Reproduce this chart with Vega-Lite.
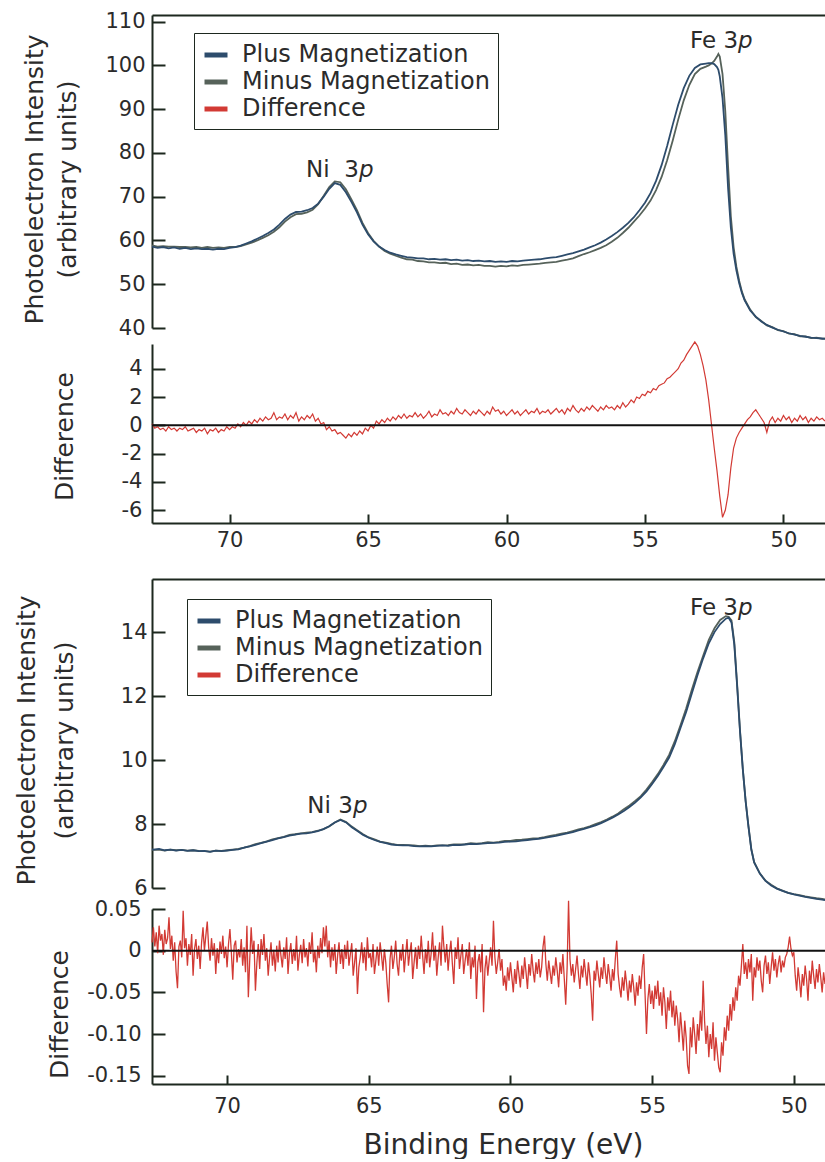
{
"$schema":"https://vega.github.io/schema/vega-lite/v6.json",
"background":"white",
"padding":{"left":13,"top":10,"right":0,"bottom":0},
"config":{
 "font":"DejaVu Sans",
 "view":{"stroke":null},
 "axis":{"domainColor":"#1d281f","domainWidth":2,"labelFontSize":21,"labelColor":"#2b2b2b","titleFontSize":25,"titleFontWeight":"normal","titleColor":"#2b2b2b","labelFlush":false,"labelOverlap":false,"ticks":false,"gridColor":"#1d281f","gridWidth":2,"gridOpacity":1},
 "legend":{"orient":"none","labelFontSize":24,"labelColor":"#2b2b2b","labelLimit":500,"symbolType":"stroke","symbolStrokeWidth":5,"symbolSize":529,"strokeColor":"#1d281f","padding":8,"rowPadding":1,"labelOffset":12,"fillColor":"#ffffff"}
},
"datasets":{
"top":[
{"e":72.8,"p":58.6,"m":58.9},{"e":72.6,"p":58.3,"m":58.6},{"e":72.4,"p":58.5,"m":58.7},{"e":72.2,"p":58.2,"m":58.6},{"e":72.0,"p":58.4,"m":58.6},{"e":71.8,"p":58.1,"m":58.5},{"e":71.6,"p":58.3,"m":58.5},{"e":71.4,"p":58.0,"m":58.4},{"e":71.2,"p":58.2,"m":58.5},{"e":71.0,"p":58.0,"m":58.3},{"e":70.8,"p":58.1,"m":58.5},{"e":70.6,"p":57.9,"m":58.3},{"e":70.4,"p":58.1,"m":58.4},{"e":70.2,"p":58.0,"m":58.3},{"e":70.0,"p":58.3,"m":58.5},{"e":69.8,"p":58.5,"m":58.5},{"e":69.6,"p":58.8,"m":58.7},{"e":69.4,"p":59.3,"m":59.1},{"e":69.2,"p":59.8,"m":59.5},{"e":69.0,"p":60.4,"m":60.0},{"e":68.8,"p":61.0,"m":60.6},{"e":68.6,"p":61.7,"m":61.2},{"e":68.4,"p":62.5,"m":62.0},{"e":68.2,"p":63.6,"m":63.0},{"e":68.0,"p":64.9,"m":64.3},{"e":67.8,"p":65.9,"m":65.3},{"e":67.6,"p":66.5,"m":66.0},{"e":67.4,"p":66.6,"m":66.1},{"e":67.2,"p":66.9,"m":66.4},{"e":67.0,"p":67.4,"m":67.0},{"e":66.8,"p":68.4,"m":68.3},{"e":66.6,"p":70.0,"m":70.2},{"e":66.4,"p":71.8,"m":72.2},{"e":66.2,"p":73.1,"m":73.5},{"e":66.0,"p":72.7,"m":73.3},{"e":65.8,"p":71.0,"m":71.7},{"e":65.6,"p":68.8,"m":69.4},{"e":65.4,"p":66.4,"m":66.9},{"e":65.2,"p":63.6,"m":64.0},{"e":65.0,"p":61.4,"m":61.7},{"e":64.8,"p":59.8,"m":59.9},{"e":64.6,"p":58.6,"m":58.6},{"e":64.4,"p":57.8,"m":57.6},{"e":64.2,"p":57.2,"m":57.0},{"e":64.0,"p":56.8,"m":56.5},{"e":63.8,"p":56.5,"m":56.1},{"e":63.6,"p":56.2,"m":55.7},{"e":63.4,"p":56.1,"m":55.6},{"e":63.2,"p":55.9,"m":55.3},{"e":63.0,"p":55.9,"m":55.2},{"e":62.8,"p":55.7,"m":55.0},{"e":62.6,"p":55.8,"m":55.0},{"e":62.4,"p":55.6,"m":54.8},{"e":62.2,"p":55.7,"m":54.9},{"e":62.0,"p":55.5,"m":54.6},{"e":61.8,"p":55.6,"m":54.7},{"e":61.6,"p":55.4,"m":54.4},{"e":61.4,"p":55.5,"m":54.5},{"e":61.2,"p":55.3,"m":54.3},{"e":61.0,"p":55.4,"m":54.4},{"e":60.8,"p":55.2,"m":54.2},{"e":60.6,"p":55.3,"m":54.2},{"e":60.4,"p":55.1,"m":54.0},{"e":60.2,"p":55.2,"m":54.2},{"e":60.0,"p":55.1,"m":54.1},{"e":59.8,"p":55.3,"m":54.3},{"e":59.6,"p":55.2,"m":54.2},{"e":59.4,"p":55.4,"m":54.4},{"e":59.2,"p":55.5,"m":54.5},{"e":59.0,"p":55.6,"m":54.6},{"e":58.8,"p":55.7,"m":54.7},{"e":58.6,"p":55.9,"m":54.9},{"e":58.4,"p":56.1,"m":55.0},{"e":58.2,"p":56.2,"m":55.1},{"e":58.0,"p":56.5,"m":55.4},{"e":57.8,"p":56.8,"m":55.6},{"e":57.6,"p":57.1,"m":55.9},{"e":57.4,"p":57.5,"m":56.4},{"e":57.2,"p":57.9,"m":56.9},{"e":57.0,"p":58.4,"m":57.3},{"e":56.8,"p":58.9,"m":57.8},{"e":56.6,"p":59.5,"m":58.3},{"e":56.4,"p":60.2,"m":58.9},{"e":56.2,"p":61.0,"m":59.7},{"e":56.0,"p":61.9,"m":60.6},{"e":55.8,"p":62.9,"m":61.7},{"e":55.6,"p":64.0,"m":62.9},{"e":55.4,"p":65.3,"m":64.3},{"e":55.2,"p":66.9,"m":65.7},{"e":55.0,"p":68.6,"m":67.3},{"e":54.8,"p":70.8,"m":69.1},{"e":54.6,"p":73.6,"m":71.5},{"e":54.4,"p":77.2,"m":74.5},{"e":54.2,"p":81.6,"m":78.3},{"e":54.0,"p":86.4,"m":82.8},{"e":53.8,"p":91.0,"m":87.6},{"e":53.6,"p":94.8,"m":92.0},{"e":53.4,"p":97.6,"m":95.5},{"e":53.2,"p":99.4,"m":98.0},{"e":53.0,"p":100.2,"m":99.2},{"e":52.8,"p":100.4,"m":99.7},{"e":52.7,"p":100.5,"m":100.0},{"e":52.6,"p":100.5,"m":100.4},{"e":52.5,"p":100.3,"m":101.0},{"e":52.4,"p":99.6,"m":102.0},{"e":52.35,"p":99.0,"m":102.6},{"e":52.3,"p":97.5,"m":102.0},{"e":52.2,"p":92.5,"m":98.0},{"e":52.1,"p":84.0,"m":89.5},{"e":52.0,"p":72.0,"m":77.0},{"e":51.9,"p":63.0,"m":65.5},{"e":51.8,"p":57.0,"m":58.5},{"e":51.7,"p":53.2,"m":54.0},{"e":51.6,"p":50.3,"m":50.8},{"e":51.5,"p":48.0,"m":48.3},{"e":51.4,"p":46.3,"m":46.5},{"e":51.2,"p":44.0,"m":44.2},{"e":51.0,"p":42.6,"m":42.5},{"e":50.8,"p":41.5,"m":41.6},{"e":50.6,"p":40.7,"m":40.6},{"e":50.4,"p":40.1,"m":40.2},{"e":50.2,"p":39.6,"m":39.5},{"e":50.0,"p":39.2,"m":39.3},{"e":49.8,"p":38.8,"m":38.7},{"e":49.6,"p":38.5,"m":38.6},{"e":49.4,"p":38.2,"m":38.1},{"e":49.2,"p":38.0,"m":38.1},{"e":49.0,"p":37.8,"m":37.7},{"e":48.8,"p":37.7,"m":37.8},{"e":48.6,"p":37.6,"m":37.5},{"e":48.5,"p":37.5,"m":37.6}
],
"topd":[
{"e":72.8,"d":0.1},{"e":72.7,"d":-0.2},{"e":72.6,"d":-0.1},{"e":72.5,"d":-0.3},{"e":72.4,"d":-0.2},{"e":72.3,"d":-0.4},{"e":72.2,"d":-0.1},{"e":72.1,"d":-0.3},{"e":72.0,"d":-0.2},{"e":71.9,"d":-0.4},{"e":71.8,"d":-0.2},{"e":71.7,"d":-0.3},{"e":71.6,"d":-0.1},{"e":71.5,"d":-0.4},{"e":71.4,"d":-0.3},{"e":71.3,"d":-0.2},{"e":71.2,"d":-0.5},{"e":71.1,"d":-0.3},{"e":71.0,"d":-0.4},{"e":70.9,"d":-0.2},{"e":70.8,"d":-0.6},{"e":70.7,"d":-0.3},{"e":70.6,"d":-0.4},{"e":70.5,"d":-0.2},{"e":70.4,"d":-0.5},{"e":70.3,"d":-0.3},{"e":70.2,"d":-0.4},{"e":70.1,"d":-0.1},{"e":70.0,"d":-0.3},{"e":69.9,"d":-0.1},{"e":69.8,"d":-0.2},{"e":69.7,"d":0.1},{"e":69.6,"d":-0.1},{"e":69.5,"d":0.2},{"e":69.4,"d":0.0},{"e":69.3,"d":0.3},{"e":69.2,"d":0.1},{"e":69.1,"d":0.4},{"e":69.0,"d":0.2},{"e":68.9,"d":0.5},{"e":68.8,"d":0.3},{"e":68.7,"d":0.6},{"e":68.6,"d":0.4},{"e":68.5,"d":0.5},{"e":68.4,"d":0.9},{"e":68.3,"d":0.4},{"e":68.2,"d":0.6},{"e":68.1,"d":0.5},{"e":68.0,"d":0.8},{"e":67.9,"d":0.4},{"e":67.8,"d":0.7},{"e":67.7,"d":0.5},{"e":67.6,"d":0.9},{"e":67.5,"d":0.3},{"e":67.4,"d":0.6},{"e":67.3,"d":0.4},{"e":67.2,"d":0.7},{"e":67.1,"d":0.5},{"e":67.0,"d":0.8},{"e":66.9,"d":0.3},{"e":66.8,"d":0.5},{"e":66.7,"d":0.1},{"e":66.6,"d":0.2},{"e":66.5,"d":-0.3},{"e":66.4,"d":-0.1},{"e":66.3,"d":-0.4},{"e":66.2,"d":-0.3},{"e":66.1,"d":-0.6},{"e":66.0,"d":-0.5},{"e":65.9,"d":-0.7},{"e":65.8,"d":-0.9},{"e":65.7,"d":-0.6},{"e":65.6,"d":-0.8},{"e":65.5,"d":-0.5},{"e":65.4,"d":-0.7},{"e":65.3,"d":-0.4},{"e":65.2,"d":-0.6},{"e":65.1,"d":-0.2},{"e":65.0,"d":-0.4},{"e":64.9,"d":0.0},{"e":64.8,"d":-0.2},{"e":64.7,"d":0.3},{"e":64.6,"d":0.1},{"e":64.5,"d":0.4},{"e":64.4,"d":0.2},{"e":64.3,"d":0.5},{"e":64.2,"d":0.3},{"e":64.1,"d":0.6},{"e":64.0,"d":0.4},{"e":63.9,"d":0.7},{"e":63.8,"d":0.5},{"e":63.7,"d":0.8},{"e":63.6,"d":0.5},{"e":63.5,"d":0.7},{"e":63.4,"d":0.6},{"e":63.3,"d":0.9},{"e":63.2,"d":0.6},{"e":63.1,"d":0.8},{"e":63.0,"d":0.5},{"e":62.9,"d":0.7},{"e":62.8,"d":1.0},{"e":62.7,"d":0.6},{"e":62.6,"d":0.8},{"e":62.5,"d":0.7},{"e":62.4,"d":1.1},{"e":62.3,"d":0.8},{"e":62.2,"d":0.9},{"e":62.1,"d":0.7},{"e":62.0,"d":1.0},{"e":61.9,"d":0.8},{"e":61.8,"d":1.2},{"e":61.7,"d":0.9},{"e":61.6,"d":0.8},{"e":61.5,"d":1.1},{"e":61.4,"d":0.9},{"e":61.3,"d":0.7},{"e":61.2,"d":1.0},{"e":61.1,"d":0.8},{"e":61.0,"d":1.1},{"e":60.9,"d":0.9},{"e":60.8,"d":0.7},{"e":60.7,"d":1.0},{"e":60.6,"d":0.8},{"e":60.5,"d":1.3},{"e":60.4,"d":1.0},{"e":60.3,"d":1.1},{"e":60.2,"d":0.8},{"e":60.1,"d":1.0},{"e":60.0,"d":0.7},{"e":59.9,"d":0.9},{"e":59.8,"d":1.1},{"e":59.7,"d":0.8},{"e":59.6,"d":1.0},{"e":59.5,"d":0.7},{"e":59.4,"d":0.9},{"e":59.3,"d":1.1},{"e":59.2,"d":0.8},{"e":59.1,"d":1.0},{"e":59.0,"d":0.9},{"e":58.9,"d":1.2},{"e":58.8,"d":0.8},{"e":58.7,"d":1.0},{"e":58.6,"d":0.9},{"e":58.5,"d":1.1},{"e":58.4,"d":0.8},{"e":58.3,"d":1.0},{"e":58.2,"d":1.2},{"e":58.1,"d":0.9},{"e":58.0,"d":1.1},{"e":57.9,"d":0.8},{"e":57.8,"d":1.2},{"e":57.7,"d":1.0},{"e":57.6,"d":1.4},{"e":57.5,"d":1.1},{"e":57.4,"d":0.9},{"e":57.3,"d":1.2},{"e":57.2,"d":1.0},{"e":57.1,"d":1.3},{"e":57.0,"d":1.1},{"e":56.9,"d":1.4},{"e":56.8,"d":1.2},{"e":56.7,"d":1.0},{"e":56.6,"d":1.3},{"e":56.5,"d":1.1},{"e":56.4,"d":1.4},{"e":56.3,"d":1.2},{"e":56.2,"d":1.3},{"e":56.1,"d":1.1},{"e":56.0,"d":1.4},{"e":55.9,"d":1.2},{"e":55.8,"d":1.6},{"e":55.7,"d":1.3},{"e":55.6,"d":1.5},{"e":55.5,"d":1.8},{"e":55.4,"d":1.6},{"e":55.3,"d":2.0},{"e":55.2,"d":1.9},{"e":55.1,"d":2.2},{"e":55.0,"d":2.1},{"e":54.9,"d":2.4},{"e":54.8,"d":2.3},{"e":54.7,"d":2.6},{"e":54.6,"d":2.5},{"e":54.5,"d":2.8},{"e":54.4,"d":2.9},{"e":54.3,"d":3.0},{"e":54.2,"d":3.3},{"e":54.1,"d":3.4},{"e":54.0,"d":3.6},{"e":53.9,"d":3.8},{"e":53.8,"d":4.0},{"e":53.7,"d":4.4},{"e":53.6,"d":4.6},{"e":53.5,"d":5.0},{"e":53.4,"d":5.3},{"e":53.3,"d":5.6},{"e":53.2,"d":5.9},{"e":53.1,"d":5.6},{"e":53.0,"d":5.0},{"e":52.9,"d":4.2},{"e":52.8,"d":3.2},{"e":52.7,"d":1.8},{"e":52.6,"d":0.1},{"e":52.5,"d":-1.6},{"e":52.4,"d":-3.2},{"e":52.3,"d":-5.0},{"e":52.2,"d":-6.5},{"e":52.1,"d":-6.0},{"e":52.0,"d":-4.9},{"e":51.9,"d":-3.0},{"e":51.8,"d":-1.6},{"e":51.7,"d":-0.9},{"e":51.6,"d":-0.5},{"e":51.5,"d":-0.2},{"e":51.4,"d":0.1},{"e":51.3,"d":0.4},{"e":51.2,"d":0.6},{"e":51.1,"d":0.9},{"e":51.0,"d":1.1},{"e":50.9,"d":0.8},{"e":50.8,"d":0.5},{"e":50.7,"d":0.2},{"e":50.6,"d":-0.5},{"e":50.5,"d":0.3},{"e":50.4,"d":0.6},{"e":50.3,"d":0.2},{"e":50.2,"d":0.5},{"e":50.1,"d":0.3},{"e":50.0,"d":0.7},{"e":49.9,"d":0.4},{"e":49.8,"d":0.6},{"e":49.7,"d":0.2},{"e":49.6,"d":0.5},{"e":49.5,"d":0.3},{"e":49.4,"d":0.7},{"e":49.3,"d":0.4},{"e":49.2,"d":0.6},{"e":49.1,"d":0.2},{"e":49.0,"d":0.5},{"e":48.9,"d":0.3},{"e":48.8,"d":0.6},{"e":48.7,"d":0.4},{"e":48.6,"d":0.5},{"e":48.5,"d":0.3}
],
"bot":[
{"e":72.65,"p":7.21,"m":7.2},{"e":72.6,"p":7.2,"m":7.19},{"e":72.4,"p":7.22,"m":7.2},{"e":72.2,"p":7.18,"m":7.17},{"e":72.0,"p":7.2,"m":7.2},{"e":71.8,"p":7.17,"m":7.18},{"e":71.6,"p":7.19,"m":7.19},{"e":71.4,"p":7.16,"m":7.17},{"e":71.2,"p":7.18,"m":7.18},{"e":71.0,"p":7.15,"m":7.16},{"e":70.8,"p":7.16,"m":7.15},{"e":70.6,"p":7.13,"m":7.14},{"e":70.4,"p":7.17,"m":7.17},{"e":70.2,"p":7.15,"m":7.16},{"e":70.0,"p":7.17,"m":7.18},{"e":69.8,"p":7.19,"m":7.2},{"e":69.6,"p":7.21,"m":7.22},{"e":69.4,"p":7.26,"m":7.26},{"e":69.2,"p":7.3,"m":7.31},{"e":69.0,"p":7.35,"m":7.37},{"e":68.8,"p":7.4,"m":7.41},{"e":68.6,"p":7.45,"m":7.46},{"e":68.4,"p":7.5,"m":7.52},{"e":68.2,"p":7.55,"m":7.56},{"e":68.0,"p":7.59,"m":7.6},{"e":67.8,"p":7.64,"m":7.66},{"e":67.6,"p":7.67,"m":7.68},{"e":67.4,"p":7.7,"m":7.71},{"e":67.2,"p":7.71,"m":7.73},{"e":67.0,"p":7.74,"m":7.75},{"e":66.8,"p":7.78,"m":7.79},{"e":66.6,"p":7.84,"m":7.84},{"e":66.4,"p":7.93,"m":7.92},{"e":66.2,"p":8.05,"m":8.05},{"e":66.0,"p":8.13,"m":8.14},{"e":65.8,"p":8.05,"m":8.06},{"e":65.6,"p":7.9,"m":7.92},{"e":65.4,"p":7.78,"m":7.8},{"e":65.2,"p":7.66,"m":7.68},{"e":65.0,"p":7.57,"m":7.58},{"e":64.8,"p":7.5,"m":7.52},{"e":64.6,"p":7.44,"m":7.45},{"e":64.4,"p":7.4,"m":7.42},{"e":64.2,"p":7.36,"m":7.38},{"e":64.0,"p":7.34,"m":7.35},{"e":63.8,"p":7.33,"m":7.35},{"e":63.6,"p":7.33,"m":7.34},{"e":63.4,"p":7.31,"m":7.33},{"e":63.2,"p":7.3,"m":7.31},{"e":63.0,"p":7.31,"m":7.32},{"e":62.8,"p":7.3,"m":7.31},{"e":62.6,"p":7.32,"m":7.33},{"e":62.4,"p":7.33,"m":7.33},{"e":62.2,"p":7.32,"m":7.34},{"e":62.0,"p":7.35,"m":7.36},{"e":61.8,"p":7.34,"m":7.36},{"e":61.6,"p":7.36,"m":7.37},{"e":61.4,"p":7.38,"m":7.4},{"e":61.2,"p":7.37,"m":7.39},{"e":61.0,"p":7.39,"m":7.4},{"e":60.8,"p":7.4,"m":7.43},{"e":60.6,"p":7.41,"m":7.42},{"e":60.4,"p":7.42,"m":7.44},{"e":60.2,"p":7.44,"m":7.47},{"e":60.0,"p":7.45,"m":7.47},{"e":59.8,"p":7.46,"m":7.5},{"e":59.6,"p":7.48,"m":7.51},{"e":59.4,"p":7.5,"m":7.53},{"e":59.2,"p":7.52,"m":7.55},{"e":59.0,"p":7.54,"m":7.56},{"e":58.8,"p":7.57,"m":7.59},{"e":58.6,"p":7.6,"m":7.63},{"e":58.4,"p":7.63,"m":7.66},{"e":58.2,"p":7.67,"m":7.7},{"e":58.0,"p":7.71,"m":7.73},{"e":57.8,"p":7.75,"m":7.78},{"e":57.6,"p":7.8,"m":7.83},{"e":57.4,"p":7.85,"m":7.87},{"e":57.2,"p":7.9,"m":7.93},{"e":57.0,"p":7.96,"m":8.0},{"e":56.8,"p":8.03,"m":8.06},{"e":56.6,"p":8.11,"m":8.14},{"e":56.4,"p":8.2,"m":8.23},{"e":56.2,"p":8.3,"m":8.33},{"e":56.0,"p":8.41,"m":8.46},{"e":55.8,"p":8.53,"m":8.58},{"e":55.6,"p":8.67,"m":8.72},{"e":55.4,"p":8.83,"m":8.87},{"e":55.2,"p":9.02,"m":9.08},{"e":55.0,"p":9.25,"m":9.31},{"e":54.8,"p":9.5,"m":9.56},{"e":54.6,"p":9.78,"m":9.85},{"e":54.4,"p":10.08,"m":10.16},{"e":54.2,"p":10.5,"m":10.59},{"e":54.0,"p":11.0,"m":11.09},{"e":53.8,"p":11.5,"m":11.61},{"e":53.6,"p":12.08,"m":12.2},{"e":53.4,"p":12.65,"m":12.75},{"e":53.2,"p":13.18,"m":13.26},{"e":53.0,"p":13.65,"m":13.76},{"e":52.8,"p":14.0,"m":14.12},{"e":52.6,"p":14.25,"m":14.38},{"e":52.4,"p":14.42,"m":14.5},{"e":52.3,"p":14.45,"m":14.48},{"e":52.2,"p":14.3,"m":14.37},{"e":52.1,"p":13.6,"m":13.68},{"e":52.0,"p":12.3,"m":12.36},{"e":51.9,"p":10.9,"m":10.94},{"e":51.8,"p":9.7,"m":9.72},{"e":51.7,"p":8.7,"m":8.72},{"e":51.6,"p":7.9,"m":7.93},{"e":51.5,"p":7.2,"m":7.22},{"e":51.4,"p":6.8,"m":6.81},{"e":51.2,"p":6.45,"m":6.46},{"e":51.0,"p":6.22,"m":6.23},{"e":50.8,"p":6.08,"m":6.1},{"e":50.6,"p":5.98,"m":5.99},{"e":50.4,"p":5.91,"m":5.92},{"e":50.2,"p":5.85,"m":5.85},{"e":50.0,"p":5.8,"m":5.81},{"e":49.8,"p":5.76,"m":5.78},{"e":49.6,"p":5.72,"m":5.74},{"e":49.4,"p":5.69,"m":5.71},{"e":49.2,"p":5.66,"m":5.68},{"e":49.0,"p":5.64,"m":5.66},{"e":48.9,"p":5.62,"m":5.64}
],
"botd":[
{"e":72.65,"d":0.01},{"e":72.6,"d":0.028},{"e":72.55,"d":0.005},{"e":72.5,"d":0.022},{"e":72.45,"d":-0.003},{"e":72.4,"d":0.03},{"e":72.35,"d":0.012},{"e":72.3,"d":0.02},{"e":72.25,"d":-0.005},{"e":72.2,"d":0.025},{"e":72.15,"d":0.008},{"e":72.1,"d":0.015},{"e":72.05,"d":0.04},{"e":72.0,"d":0.002},{"e":71.95,"d":0.018},{"e":71.9,"d":-0.012},{"e":71.85,"d":0.01},{"e":71.8,"d":-0.025},{"e":71.75,"d":-0.045},{"e":71.7,"d":0.005},{"e":71.65,"d":0.012},{"e":71.6,"d":-0.008},{"e":71.55,"d":0.048},{"e":71.5,"d":0.003},{"e":71.45,"d":0.015},{"e":71.4,"d":-0.018},{"e":71.35,"d":0.008},{"e":71.3,"d":-0.005},{"e":71.25,"d":0.02},{"e":71.2,"d":-0.03},{"e":71.15,"d":0.002},{"e":71.1,"d":0.014},{"e":71.05,"d":-0.01},{"e":71.0,"d":0.006},{"e":70.95,"d":-0.022},{"e":70.9,"d":0.01},{"e":70.85,"d":0.028},{"e":70.8,"d":0.0},{"e":70.75,"d":0.018},{"e":70.7,"d":0.035},{"e":70.65,"d":0.004},{"e":70.6,"d":-0.012},{"e":70.55,"d":0.015},{"e":70.5,"d":-0.006},{"e":70.45,"d":0.009},{"e":70.4,"d":-0.028},{"e":70.35,"d":0.003},{"e":70.3,"d":-0.015},{"e":70.25,"d":0.011},{"e":70.2,"d":-0.004},{"e":70.15,"d":0.018},{"e":70.1,"d":-0.009},{"e":70.05,"d":0.005},{"e":70.0,"d":-0.02},{"e":69.95,"d":0.008},{"e":69.9,"d":0.026},{"e":69.85,"d":-0.002},{"e":69.8,"d":-0.035},{"e":69.75,"d":0.006},{"e":69.7,"d":0.012},{"e":69.65,"d":-0.014},{"e":69.6,"d":0.002},{"e":69.55,"d":-0.008},{"e":69.5,"d":0.014},{"e":69.45,"d":-0.018},{"e":69.4,"d":0.004},{"e":69.35,"d":-0.026},{"e":69.3,"d":0.03},{"e":69.25,"d":-0.056},{"e":69.2,"d":-0.01},{"e":69.15,"d":0.028},{"e":69.1,"d":-0.004},{"e":69.05,"d":0.012},{"e":69.0,"d":-0.048},{"e":68.95,"d":-0.015},{"e":68.9,"d":0.008},{"e":68.85,"d":-0.022},{"e":68.8,"d":0.014},{"e":68.75,"d":-0.005},{"e":68.7,"d":0.02},{"e":68.65,"d":-0.012},{"e":68.6,"d":0.003},{"e":68.55,"d":-0.03},{"e":68.5,"d":-0.008},{"e":68.45,"d":0.01},{"e":68.4,"d":-0.018},{"e":68.35,"d":0.001},{"e":68.3,"d":-0.025},{"e":68.25,"d":0.006},{"e":68.2,"d":-0.014},{"e":68.15,"d":0.012},{"e":68.1,"d":-0.006},{"e":68.05,"d":-0.02},{"e":68.0,"d":0.004},{"e":67.95,"d":-0.01},{"e":67.9,"d":0.016},{"e":67.85,"d":-0.028},{"e":67.8,"d":-0.003},{"e":67.75,"d":0.009},{"e":67.7,"d":-0.016},{"e":67.65,"d":0.002},{"e":67.6,"d":-0.012},{"e":67.55,"d":0.018},{"e":67.5,"d":-0.024},{"e":67.45,"d":-0.005},{"e":67.4,"d":0.007},{"e":67.35,"d":-0.015},{"e":67.3,"d":0.014},{"e":67.25,"d":-0.008},{"e":67.2,"d":0.003},{"e":67.15,"d":-0.019},{"e":67.1,"d":0.01},{"e":67.05,"d":-0.004},{"e":67.0,"d":0.022},{"e":66.95,"d":-0.014},{"e":66.9,"d":0.0},{"e":66.85,"d":-0.026},{"e":66.8,"d":0.006},{"e":66.75,"d":-0.009},{"e":66.7,"d":0.015},{"e":66.65,"d":-0.003},{"e":66.6,"d":0.028},{"e":66.55,"d":0.005},{"e":66.5,"d":0.03},{"e":66.45,"d":-0.008},{"e":66.4,"d":0.012},{"e":66.35,"d":-0.02},{"e":66.3,"d":0.004},{"e":66.25,"d":-0.012},{"e":66.2,"d":0.008},{"e":66.15,"d":-0.028},{"e":66.1,"d":-0.006},{"e":66.05,"d":0.01},{"e":66.0,"d":-0.016},{"e":65.95,"d":0.002},{"e":65.9,"d":-0.022},{"e":65.85,"d":0.007},{"e":65.8,"d":-0.01},{"e":65.75,"d":0.012},{"e":65.7,"d":-0.018},{"e":65.65,"d":-0.004},{"e":65.6,"d":0.009},{"e":65.55,"d":-0.03},{"e":65.5,"d":-0.014},{"e":65.45,"d":0.003},{"e":65.4,"d":-0.052},{"e":65.35,"d":-0.02},{"e":65.3,"d":-0.008},{"e":65.25,"d":0.01},{"e":65.2,"d":-0.015},{"e":65.15,"d":0.004},{"e":65.1,"d":-0.024},{"e":65.05,"d":0.016},{"e":65.0,"d":-0.009},{"e":64.95,"d":-0.003},{"e":64.9,"d":-0.02},{"e":64.85,"d":0.008},{"e":64.8,"d":-0.028},{"e":64.75,"d":-0.012},{"e":64.7,"d":0.005},{"e":64.65,"d":-0.018},{"e":64.6,"d":0.01},{"e":64.55,"d":-0.006},{"e":64.5,"d":-0.024},{"e":64.45,"d":0.002},{"e":64.4,"d":-0.014},{"e":64.35,"d":-0.04},{"e":64.3,"d":-0.062},{"e":64.25,"d":-0.01},{"e":64.2,"d":0.006},{"e":64.15,"d":-0.022},{"e":64.1,"d":-0.008},{"e":64.05,"d":0.012},{"e":64.0,"d":-0.016},{"e":63.95,"d":-0.03},{"e":63.9,"d":0.0},{"e":63.85,"d":-0.012},{"e":63.8,"d":0.008},{"e":63.75,"d":-0.026},{"e":63.7,"d":-0.005},{"e":63.65,"d":0.014},{"e":63.6,"d":-0.018},{"e":63.55,"d":-0.002},{"e":63.5,"d":0.01},{"e":63.45,"d":-0.034},{"e":63.4,"d":-0.014},{"e":63.35,"d":0.004},{"e":63.3,"d":-0.022},{"e":63.25,"d":0.006},{"e":63.2,"d":-0.01},{"e":63.15,"d":0.018},{"e":63.1,"d":-0.006},{"e":63.05,"d":-0.028},{"e":63.0,"d":0.002},{"e":62.95,"d":-0.015},{"e":62.9,"d":0.012},{"e":62.85,"d":-0.02},{"e":62.8,"d":-0.004},{"e":62.75,"d":0.022},{"e":62.7,"d":-0.012},{"e":62.65,"d":0.006},{"e":62.6,"d":-0.03},{"e":62.55,"d":-0.008},{"e":62.5,"d":0.01},{"e":62.45,"d":-0.018},{"e":62.4,"d":0.03},{"e":62.35,"d":0.005},{"e":62.3,"d":-0.014},{"e":62.25,"d":0.008},{"e":62.2,"d":-0.024},{"e":62.15,"d":-0.002},{"e":62.1,"d":0.012},{"e":62.05,"d":-0.016},{"e":62.0,"d":-0.04},{"e":61.95,"d":0.004},{"e":61.9,"d":-0.01},{"e":61.85,"d":0.016},{"e":61.8,"d":-0.022},{"e":61.75,"d":-0.006},{"e":61.7,"d":0.008},{"e":61.65,"d":-0.028},{"e":61.6,"d":-0.012},{"e":61.55,"d":0.002},{"e":61.5,"d":-0.018},{"e":61.45,"d":0.01},{"e":61.4,"d":-0.034},{"e":61.35,"d":-0.008},{"e":61.3,"d":-0.02},{"e":61.25,"d":0.006},{"e":61.2,"d":-0.058},{"e":61.15,"d":-0.014},{"e":61.1,"d":-0.004},{"e":61.05,"d":-0.026},{"e":61.0,"d":0.008},{"e":60.95,"d":-0.074},{"e":60.9,"d":-0.022},{"e":60.85,"d":-0.006},{"e":60.8,"d":-0.03},{"e":60.75,"d":-0.012},{"e":60.7,"d":0.004},{"e":60.65,"d":-0.018},{"e":60.6,"d":0.036},{"e":60.55,"d":-0.008},{"e":60.5,"d":-0.028},{"e":60.45,"d":-0.014},{"e":60.4,"d":0.002},{"e":60.35,"d":-0.024},{"e":60.3,"d":-0.01},{"e":60.25,"d":-0.042},{"e":60.2,"d":-0.03},{"e":60.15,"d":-0.048},{"e":60.1,"d":-0.02},{"e":60.05,"d":-0.036},{"e":60.0,"d":-0.014},{"e":59.95,"d":-0.032},{"e":59.9,"d":-0.05},{"e":59.85,"d":-0.022},{"e":59.8,"d":-0.04},{"e":59.75,"d":-0.012},{"e":59.7,"d":-0.028},{"e":59.65,"d":-0.044},{"e":59.6,"d":-0.018},{"e":59.55,"d":-0.034},{"e":59.5,"d":-0.008},{"e":59.45,"d":-0.026},{"e":59.4,"d":-0.046},{"e":59.35,"d":-0.016},{"e":59.3,"d":-0.03},{"e":59.25,"d":-0.004},{"e":59.2,"d":-0.024},{"e":59.15,"d":-0.038},{"e":59.1,"d":-0.014},{"e":59.05,"d":-0.028},{"e":59.0,"d":-0.01},{"e":58.95,"d":-0.032},{"e":58.9,"d":-0.02},{"e":58.85,"d":0.005},{"e":58.8,"d":0.018},{"e":58.75,"d":-0.016},{"e":58.7,"d":-0.036},{"e":58.65,"d":-0.012},{"e":58.6,"d":-0.026},{"e":58.55,"d":-0.04},{"e":58.5,"d":-0.018},{"e":58.45,"d":-0.03},{"e":58.4,"d":-0.008},{"e":58.35,"d":-0.024},{"e":58.3,"d":-0.044},{"e":58.25,"d":-0.014},{"e":58.2,"d":-0.028},{"e":58.15,"d":-0.004},{"e":58.1,"d":-0.034},{"e":58.05,"d":-0.065},{"e":58.0,"d":-0.02},{"e":57.95,"d":0.06},{"e":57.9,"d":-0.01},{"e":57.85,"d":-0.03},{"e":57.8,"d":-0.016},{"e":57.75,"d":-0.038},{"e":57.7,"d":-0.022},{"e":57.65,"d":-0.006},{"e":57.6,"d":-0.028},{"e":57.55,"d":-0.046},{"e":57.5,"d":-0.018},{"e":57.45,"d":-0.032},{"e":57.4,"d":-0.01},{"e":57.35,"d":-0.026},{"e":57.3,"d":-0.042},{"e":57.25,"d":-0.014},{"e":57.2,"d":-0.03},{"e":57.15,"d":-0.052},{"e":57.1,"d":-0.084},{"e":57.05,"d":-0.024},{"e":57.0,"d":-0.036},{"e":56.95,"d":-0.012},{"e":56.9,"d":-0.028},{"e":56.85,"d":-0.044},{"e":56.8,"d":-0.02},{"e":56.75,"d":-0.034},{"e":56.7,"d":-0.008},{"e":56.65,"d":-0.026},{"e":56.6,"d":-0.04},{"e":56.55,"d":-0.016},{"e":56.5,"d":-0.03},{"e":56.45,"d":-0.048},{"e":56.4,"d":-0.022},{"e":56.35,"d":-0.036},{"e":56.3,"d":-0.01},{"e":56.25,"d":0.012},{"e":56.2,"d":-0.028},{"e":56.15,"d":-0.044},{"e":56.1,"d":-0.056},{"e":56.05,"d":-0.032},{"e":56.0,"d":-0.048},{"e":55.95,"d":-0.024},{"e":55.9,"d":-0.04},{"e":55.85,"d":-0.06},{"e":55.8,"d":-0.036},{"e":55.75,"d":-0.05},{"e":55.7,"d":-0.028},{"e":55.65,"d":-0.044},{"e":55.6,"d":-0.066},{"e":55.55,"d":-0.038},{"e":55.5,"d":-0.054},{"e":55.45,"d":-0.03},{"e":55.4,"d":-0.046},{"e":55.35,"d":-0.02},{"e":55.3,"d":-0.004},{"e":55.25,"d":-0.052},{"e":55.2,"d":-0.1},{"e":55.15,"d":-0.058},{"e":55.1,"d":-0.04},{"e":55.05,"d":-0.064},{"e":55.0,"d":-0.048},{"e":54.95,"d":-0.07},{"e":54.9,"d":-0.042},{"e":54.85,"d":-0.058},{"e":54.8,"d":-0.036},{"e":54.75,"d":-0.066},{"e":54.7,"d":-0.05},{"e":54.65,"d":-0.078},{"e":54.6,"d":-0.044},{"e":54.55,"d":-0.062},{"e":54.5,"d":-0.094},{"e":54.45,"d":-0.056},{"e":54.4,"d":-0.072},{"e":54.35,"d":-0.048},{"e":54.3,"d":-0.08},{"e":54.25,"d":-0.06},{"e":54.2,"d":-0.09},{"e":54.15,"d":-0.066},{"e":54.1,"d":-0.082},{"e":54.05,"d":-0.11},{"e":54.0,"d":-0.074},{"e":53.95,"d":-0.096},{"e":53.9,"d":-0.12},{"e":53.85,"d":-0.084},{"e":53.8,"d":-0.104},{"e":53.75,"d":-0.138},{"e":53.7,"d":-0.148},{"e":53.65,"d":-0.092},{"e":53.6,"d":-0.116},{"e":53.55,"d":-0.08},{"e":53.5,"d":-0.1},{"e":53.45,"d":-0.124},{"e":53.4,"d":-0.088},{"e":53.35,"d":-0.108},{"e":53.3,"d":-0.072},{"e":53.25,"d":-0.096},{"e":53.2,"d":-0.036},{"e":53.15,"d":-0.084},{"e":53.1,"d":-0.112},{"e":53.05,"d":-0.09},{"e":53.0,"d":-0.128},{"e":52.95,"d":-0.1},{"e":52.9,"d":-0.118},{"e":52.85,"d":-0.086},{"e":52.8,"d":-0.132},{"e":52.75,"d":-0.104},{"e":52.7,"d":-0.122},{"e":52.65,"d":-0.14},{"e":52.6,"d":-0.146},{"e":52.55,"d":-0.11},{"e":52.5,"d":-0.126},{"e":52.45,"d":-0.092},{"e":52.4,"d":-0.108},{"e":52.35,"d":-0.078},{"e":52.3,"d":-0.096},{"e":52.25,"d":-0.064},{"e":52.2,"d":-0.084},{"e":52.15,"d":-0.056},{"e":52.1,"d":-0.072},{"e":52.05,"d":-0.044},{"e":52.0,"d":-0.06},{"e":51.95,"d":-0.03},{"e":51.9,"d":-0.042},{"e":51.85,"d":-0.018},{"e":51.8,"d":0.008},{"e":51.75,"d":-0.028},{"e":51.7,"d":-0.014},{"e":51.65,"d":-0.034},{"e":51.6,"d":-0.01},{"e":51.55,"d":-0.026},{"e":51.5,"d":-0.004},{"e":51.45,"d":-0.06},{"e":51.4,"d":-0.02},{"e":51.35,"d":-0.032},{"e":51.3,"d":-0.008},{"e":51.25,"d":-0.024},{"e":51.2,"d":-0.012},{"e":51.15,"d":-0.036},{"e":51.1,"d":-0.05},{"e":51.05,"d":-0.018},{"e":51.0,"d":-0.006},{"e":50.95,"d":-0.028},{"e":50.9,"d":-0.014},{"e":50.85,"d":-0.04},{"e":50.8,"d":-0.02},{"e":50.75,"d":-0.002},{"e":50.7,"d":-0.024},{"e":50.65,"d":-0.01},{"e":50.6,"d":-0.032},{"e":50.55,"d":-0.016},{"e":50.5,"d":-0.006},{"e":50.45,"d":-0.026},{"e":50.4,"d":-0.012},{"e":50.35,"d":-0.02},{"e":50.3,"d":-0.008},{"e":50.25,"d":-0.004},{"e":50.2,"d":0.004},{"e":50.15,"d":0.017},{"e":50.1,"d":0.002},{"e":50.05,"d":-0.006},{"e":50.0,"d":-0.002},{"e":49.95,"d":-0.03},{"e":49.9,"d":-0.048},{"e":49.85,"d":-0.02},{"e":49.8,"d":-0.036},{"e":49.75,"d":-0.056},{"e":49.7,"d":-0.028},{"e":49.65,"d":-0.042},{"e":49.6,"d":-0.018},{"e":49.55,"d":-0.034},{"e":49.5,"d":-0.06},{"e":49.45,"d":-0.024},{"e":49.4,"d":-0.04},{"e":49.35,"d":-0.012},{"e":49.3,"d":-0.03},{"e":49.25,"d":-0.046},{"e":49.2,"d":-0.022},{"e":49.15,"d":-0.038},{"e":49.1,"d":-0.016},{"e":49.05,"d":-0.032},{"e":49.0,"d":-0.05},{"e":48.95,"d":-0.026},{"e":48.9,"d":-0.04}
]
},
"spacing":29,
"resolve":{"scale":{"x":"independent","y":"independent","color":"independent"}},
"vconcat":[
{"spacing":16,"bounds":"flush",
 "resolve":{"scale":{"x":"independent","y":"independent","color":"independent"}},
 "vconcat":[
 {"width":673,"height":313,
  "encoding":{
   "x":{"field":"e","type":"quantitative","scale":{"domain":[48.5,72.8],"reverse":true,"nice":false,"zero":false},"axis":{"orient":"top","title":null,"labels":false,"ticks":false,"grid":false,"domain":true}},
   "y":{"field":"v","type":"quantitative","scale":{"domain":[40,111.5],"nice":false,"zero":false},"axis":{"values":[40,50,60,70,80,90,100,110],"grid":true,"gridDash":[0,660,13,20],"labelPadding":7,"labelOverlap":false,"title":["Photoelectron Intensity","(arbitrary units)"],"titleLineHeight":33,"titleX":-118,"titleY":164,"titleBaseline":"middle","titleAngle":-90}}
  },
  "layer":[
   {"data":{"name":"top"},"transform":[{"fold":["m","p"],"as":["s","v"]}],
    "mark":{"type":"line","strokeWidth":1.8,"clip":false},
    "encoding":{"color":{"field":"s","type":"nominal","scale":{"domain":["p","m","d"],"range":["#2d4c6c","#56625a","#d23a34"]},"legend":{"title":null,"legendX":42,"legendY":18,"labelExpr":"datum.label == 'p' ? 'Plus Magnetization' : datum.label == 'm' ? 'Minus Magnetization' : 'Difference'"}}}},
   {"data":{"values":[{"e":65.33,"v":74.6,"t":"Ni\u00a0 3"},{"e":51.64,"v":104.05,"t":"Fe 3"}]},
    "mark":{"type":"text","align":"right","baseline":"alphabetic","fontSize":23,"color":"#2b2b2b"},
    "encoding":{"text":{"field":"t"}}},
   {"data":{"values":[{"e":65.33,"v":74.6,"t":"p"},{"e":51.64,"v":104.05,"t":"p"}]},
    "mark":{"type":"text","align":"left","baseline":"alphabetic","fontSize":23,"fontStyle":"italic","color":"#2b2b2b"},
    "encoding":{"text":{"field":"t"}}}
  ]
 },
 {"width":673,"height":179,
  "encoding":{
   "y":{"field":"d","type":"quantitative","scale":{"domain":[-6.9,5.75],"nice":false,"zero":false},"axis":{"values":[-6,-4,-2,0,2,4],"tickCount":6,"grid":true,"gridDash":[0,660,13,20],"labelPadding":10,"labelOverlap":false,"labelExpr":"datum.value == 0 ? '0' : datum.value == 2 ? '2' : datum.value == 4 ? '4' : datum.value == -2 ? '-2' : datum.value == -4 ? '-4' : '-6'","title":"Difference","titleX":-88,"titleY":92,"titleBaseline":"middle","titleAngle":-90}}
  },
  "layer":[
   {"data":{"name":"topd"},
    "mark":{"type":"line","color":"#d23a34","strokeWidth":1.2,"clip":false},
    "encoding":{
     "x":{"field":"e","type":"quantitative","scale":{"domain":[48.5,72.8],"reverse":true,"nice":false,"zero":false},"axis":{"values":[70,65,60,55,50],"grid":true,"gridDash":[0,170,9,20],"labelPadding":6,"labelOverlap":false,"title":null}}}},
   {"data":{"values":[{"d":0}]},
    "mark":{"type":"rule","color":"#111111","strokeWidth":2}}
  ]
 }
 ]},
{"spacing":21,"bounds":"flush",
 "resolve":{"scale":{"x":"independent","y":"independent","color":"independent"}},
 "vconcat":[
 {"width":673,"height":309,
  "encoding":{
   "x":{"field":"e","type":"quantitative","scale":{"domain":[48.9,72.65],"reverse":true,"nice":false,"zero":false},"axis":{"orient":"top","title":null,"labels":false,"ticks":false,"grid":false,"domain":true}},
   "y":{"field":"v","type":"quantitative","scale":{"domain":[6,15.66],"nice":false,"zero":false},"axis":{"values":[6,8,10,12,14],"grid":true,"gridDash":[0,660,13,20],"labelPadding":5,"labelOverlap":false,"title":["Photoelectron Intensity","(arbitrary units)"],"titleLineHeight":38,"titleX":-126,"titleY":161,"titleBaseline":"middle","titleAngle":-90}}
  },
  "layer":[
   {"data":{"name":"bot"},"transform":[{"fold":["m","p"],"as":["s","v"]}],
    "mark":{"type":"line","strokeWidth":1.8,"clip":false},
    "encoding":{"color":{"field":"s","type":"nominal","scale":{"domain":["p","m","d"],"range":["#2d4c6c","#56625a","#d23a34"]},"legend":{"title":null,"legendX":35,"legendY":20,"labelExpr":"datum.label == 'p' ? 'Plus Magnetization' : datum.label == 'm' ? 'Minus Magnetization' : 'Difference'"}}}},
   {"data":{"values":[{"e":65.56,"v":8.36,"t":"Ni 3"},{"e":51.97,"v":14.54,"t":"Fe 3"}]},
    "mark":{"type":"text","align":"right","baseline":"alphabetic","fontSize":23,"color":"#2b2b2b"},
    "encoding":{"text":{"field":"t"}}},
   {"data":{"values":[{"e":65.56,"v":8.36,"t":"p"},{"e":51.97,"v":14.54,"t":"p"}]},
    "mark":{"type":"text","align":"left","baseline":"alphabetic","fontSize":23,"fontStyle":"italic","color":"#2b2b2b"},
    "encoding":{"text":{"field":"t"}}}
  ]
 },
 {"width":673,"height":175,
  "encoding":{
   "y":{"field":"d","type":"quantitative","scale":{"domain":[-0.16,0.05],"nice":false,"zero":false},"axis":{"values":[0.05,0,-0.05,-0.1,-0.15],"grid":true,"gridDash":[0,660,13,20],"labelPadding":11,"labelOverlap":false,"labelExpr":"datum.value == 0 ? '0' : replace(format(datum.value, '.2f'), '\u2212', '-')","title":"Difference","titleX":-93,"titleY":105,"titleBaseline":"middle","titleAngle":-90}}
  },
  "layer":[
   {"data":{"name":"botd"},
    "mark":{"type":"line","color":"#d23a34","strokeWidth":1.3,"clip":false},
    "encoding":{
     "x":{"field":"e","type":"quantitative","scale":{"domain":[48.9,72.65],"reverse":true,"nice":false,"zero":false},"axis":{"values":[70,65,60,55,50],"grid":true,"gridDash":[0,166,9,20],"labelPadding":11,"labelOverlap":false,"title":"Binding Energy (eV)","titleFontSize":28,"titleX":351,"titleY":69,"titleBaseline":"alphabetic"}}}},
   {"data":{"values":[{"d":0}]},
    "mark":{"type":"rule","color":"#111111","strokeWidth":2}}
  ]
 }
 ]}
]
}
